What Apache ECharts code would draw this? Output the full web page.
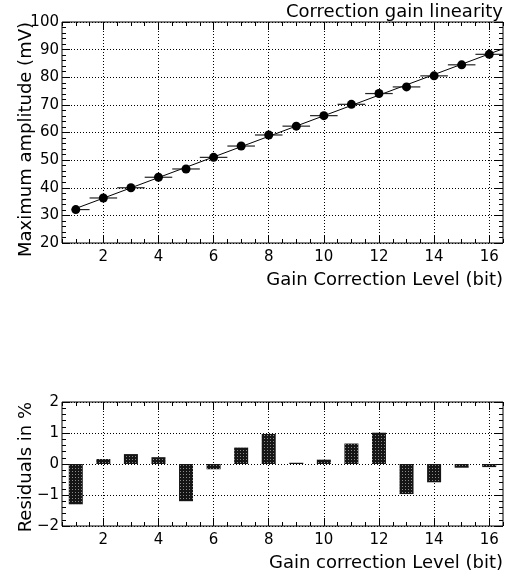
<!DOCTYPE html>
<html>
<head>
<meta charset="utf-8">
<title>Correction gain linearity</title>
<script src="https://cdn.jsdelivr.net/npm/echarts@6/dist/echarts.min.js"></script>
<style>
  html, body { margin: 0; padding: 0; background: #fff; }
  #chart { width: 511px; height: 577px; }
</style>
</head>
<body>
<div id="chart"></div>
<script>
// Gain correction levels (bit) and the measured maximum amplitude (mV)
const levels = [1, 2, 3, 4, 5, 6, 7, 8, 9, 10, 11, 12, 13, 14, 15, 16];
const amplitude = [32.1, 36.3, 40.0, 43.8, 46.8, 51.0, 55.1, 59.1, 62.3, 66.1, 70.2, 74.1, 76.5, 80.5, 84.5, 88.3];
// Horizontal extent of each measurement (half bin to either side)
const xErrLow = [0, 0.5, 0.5, 0.5, 0.5, 0.5, 0.5, 0.5, 0.5, 0.5, 0.5, 0.5, 0.5, 0.5, 0.5, 0.5];
const xErrHigh = [0.5, 0.5, 0.5, 0.5, 0.5, 0.5, 0.5, 0.5, 0.5, 0.5, 0.5, 0.5, 0.5, 0.5, 0.5, 0.5];
// Linear fit, drawn between its two end points
const fitX = [1, 16.5];
const fitY = [32.5, 90.3];
// Residuals of the points around the fit, in percent
const residuals = [-1.30, 0.16, 0.32, 0.22, -1.20, -0.17, 0.53, 0.97, 0.04, 0.14, 0.66, 1.01, -0.97, -0.59, -0.12, -0.10];

// Axis ticks
const xMajorTicks = [2, 4, 6, 8, 10, 12, 14, 16];
const xMinorTicks = [];
for (let v = 0.5; v <= 16.5; v += 0.5) xMinorTicks.push(v);

const FONT = 'DejaVu Sans';
const BLACK = '#000';

function xAxesFor(gridIndex, title) {
  const base = {
    type: 'value', gridIndex: gridIndex, min: 0.5, max: 16.5,
    axisLine: { show: false, onZero: false }
  };
  return [
    Object.assign({}, base, {
      position: 'bottom',
      name: title,
      nameLocation: 'end',
      nameGap: 0,
      nameMoveOverlap: false,
      nameTextStyle: { fontFamily: FONT, fontSize: 18, color: BLACK, align: 'right', verticalAlign: 'top', padding: [28, 0, 0, 0] },
      axisTick: { show: true, inside: true, length: 8, customValues: xMajorTicks, lineStyle: { color: BLACK } },
      axisLabel: { show: true, customValues: xMajorTicks, margin: 7, fontFamily: FONT, fontSize: 15, color: BLACK },
      splitLine: { show: true, lineStyle: { color: BLACK, width: 1, type: [1, 2] } }
    }),
    Object.assign({}, base, {
      position: 'bottom',
      axisTick: { show: true, inside: true, length: 4, customValues: xMinorTicks, lineStyle: { color: BLACK } },
      axisLabel: { show: false },
      splitLine: { show: false }
    }),
    Object.assign({}, base, {
      position: 'top',
      axisTick: { show: true, inside: true, length: 8, customValues: xMajorTicks, lineStyle: { color: BLACK } },
      axisLabel: { show: false },
      splitLine: { show: false }
    }),
    Object.assign({}, base, {
      position: 'top',
      axisTick: { show: true, inside: true, length: 4, customValues: xMinorTicks, lineStyle: { color: BLACK } },
      axisLabel: { show: false },
      splitLine: { show: false }
    })
  ];
}

function yAxesFor(gridIndex, min, max, interval, title, formatter) {
  const base = {
    type: 'value', gridIndex: gridIndex, min: min, max: max, interval: interval,
    axisLine: { show: false, onZero: false },
    axisTick: { show: true, inside: true, length: 8, lineStyle: { color: BLACK } },
    minorTick: { show: true, splitNumber: 5, length: 4, lineStyle: { color: BLACK } }
  };
  return [
    Object.assign({}, base, {
      position: 'left',
      name: title,
      nameLocation: 'end',
      nameRotate: 90,
      nameGap: 0,
      nameMoveOverlap: false,
      nameTextStyle: { fontFamily: FONT, fontSize: 18, color: BLACK, align: 'right', verticalAlign: 'bottom', padding: [0, 0, 27, 0] },
      axisLabel: { show: true, margin: 3, fontFamily: FONT, fontSize: 15, color: BLACK, formatter: formatter },
      splitLine: { show: true, lineStyle: { color: BLACK, width: 1, type: [1, 2] } }
    }),
    Object.assign({}, base, {
      position: 'right',
      axisLabel: { show: false },
      splitLine: { show: false }
    })
  ];
}

const minusFmt = function (v) { return v < 0 ? '\u2212' + (-v) : String(v); };

const chart = echarts.init(document.getElementById('chart'), null, { renderer: 'canvas' });

const pointRows = levels.map((x, i) => [x, amplitude[i], xErrLow[i], xErrHigh[i]]);

const gridBase = { left: 62, right: 8, show: true, borderColor: BLACK, borderWidth: 1, backgroundColor: 'transparent', containLabel: false, outerBoundsMode: 'none' };

chart.setOption({
  animation: false,
  backgroundColor: '#fff',
  title: {
    text: 'Correction gain linearity',
    right: 8, top: 3, padding: 0,
    textStyle: { fontFamily: FONT, fontSize: 18, fontWeight: 'normal', color: BLACK }
  },
  grid: [
    Object.assign({ top: 22, height: 221 }, gridBase),
    Object.assign({ top: 402, height: 124 }, gridBase)
  ],
  xAxis: xAxesFor(0, 'Gain Correction Level (bit)').concat(xAxesFor(1, 'Gain correction Level (bit)')),
  yAxis: yAxesFor(0, 20, 100, 10, 'Maximum amplitude (mV)', null).concat(yAxesFor(1, -2, 2, 1, 'Residuals in %', minusFmt)),
  series: [
    {
      name: 'fit',
      type: 'line',
      xAxisIndex: 0, yAxisIndex: 0,
      data: fitX.map((x, i) => [x, fitY[i]]),
      showSymbol: false,
      lineStyle: { color: BLACK, width: 1 },
      silent: true,
      z: 2
    },
    {
      name: 'bin width',
      type: 'custom',
      xAxisIndex: 0, yAxisIndex: 0,
      data: pointRows,
      renderItem: function (params, api) {
        const x = api.value(0), y = api.value(1);
        const a = api.coord([x - api.value(2), y]);
        const b = api.coord([x + api.value(3), y]);
        return {
          type: 'line',
          shape: { x1: a[0], y1: a[1], x2: b[0], y2: b[1] },
          style: { stroke: '#222', lineWidth: 1.2 }
        };
      },
      silent: true,
      z: 3
    },
    {
      name: 'amplitude',
      type: 'scatter',
      xAxisIndex: 0, yAxisIndex: 0,
      data: levels.map((x, i) => [x, amplitude[i]]),
      symbol: 'circle',
      symbolSize: 9,
      itemStyle: { color: BLACK, opacity: 1 },
      z: 4
    },
    {
      name: 'residuals',
      type: 'bar',
      xAxisIndex: 4, yAxisIndex: 2,
      data: levels.map((x, i) => [x, residuals[i]]),
      barWidth: 14,
      itemStyle: {
        color: '#151515',
        decal: {
          symbol: 'rect',
          symbolSize: 1,
          color: 'rgba(255,255,255,0.5)',
          dashArrayX: [1, 2],
          dashArrayY: [1, 2],
          rotation: 0
        }
      },
      z: 3
    }
  ]
});
</script>
</body>
</html>
